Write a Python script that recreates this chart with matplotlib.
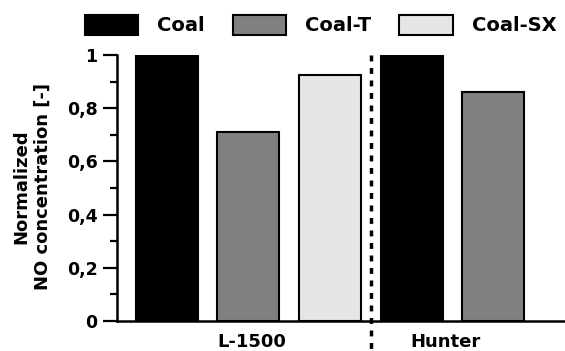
import numpy as np
import matplotlib.pyplot as plt
from matplotlib.patches import Patch
from matplotlib.ticker import MultipleLocator, FuncFormatter

# data
groups = ["L-1500", "Hunter"]
series = ["Coal", "Coal-T", "Coal-SX"]
colors = ["#000000", "#808080", "#e6e6e6"]
l1500_values = [1.0, 0.71, 0.925]
hunter_values = [1.0, 0.86]

plt.rcParams['font.family'] = 'DejaVu Sans'
plt.rcParams['font.weight'] = 'bold'

fig = plt.figure(figsize=(5.65, 3.51), dpi=100)
ax = fig.add_axes([117/565, 1-321/351, 1-117/565, (321-55)/351])

vals = l1500_values + hunter_values
cols = colors[:len(l1500_values)] + colors[:len(hunter_values)]
x = np.arange(len(vals))
ax.bar(x, vals, width=0.76, color=cols, edgecolor="black", linewidth=1.5, zorder=2)

# separator between the two coals
sep = len(l1500_values) - 0.5
ax.plot([sep, sep], [1.0, -0.12], color="black", lw=2.5,
        dashes=(1.7, 1.9), dash_capstyle="butt", clip_on=False, zorder=3)

ax.set_xlim(-0.61, 4.88)
ax.set_ylim(0, 1)
ax.yaxis.set_major_locator(MultipleLocator(0.2))
ax.yaxis.set_minor_locator(MultipleLocator(0.1))
ax.yaxis.set_major_formatter(FuncFormatter(lambda v, p: ("%g" % round(v, 1)).replace(".", ",")))
ax.tick_params(axis="y", which="major", length=10, width=1.6, labelsize=12.5, pad=4)
ax.tick_params(axis="y", which="minor", length=5, width=1.6)
ax.set_xticks([])
for s in ["top", "right"]:
    ax.spines[s].set_visible(False)
for s in ["left", "bottom"]:
    ax.spines[s].set_linewidth(1.8)

# group labels
ax.text(1.04, -0.08, groups[0], ha="center", va="center", fontsize=13, fontweight="bold")
ax.text(3.41, -0.08, groups[1], ha="center", va="center", fontsize=13, fontweight="bold")

fig.text(32/565, 1-187/351, "Normalized\nNO concentration [-]", rotation=90,
         ha="center", va="center", multialignment="center", fontsize=13,
         fontweight="bold", linespacing=1.2)

handles = [Patch(facecolor=c, edgecolor="black", linewidth=1.5, label=s) for s, c in zip(series, colors)]
fig.legend(handles=handles, loc="center left", bbox_to_anchor=(85/565, 1-25/351),
           ncol=3, frameon=False, fontsize=14, handlelength=2.73, handleheight=1.2,
           handletextpad=0.98, columnspacing=1.45, borderpad=0, borderaxespad=0)

fig.savefig("out.png", dpi=100)
